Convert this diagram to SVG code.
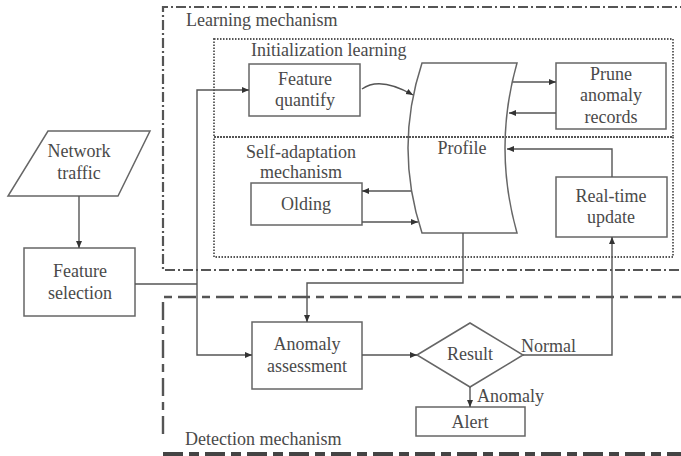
<svg xmlns="http://www.w3.org/2000/svg" width="681" height="456" viewBox="0 0 681 456">
<style>
text{font-family:"Liberation Serif","Times New Roman",serif;font-size:18px;fill:#4a4a4a;}
.m{text-anchor:middle;}
.box{fill:none;stroke:#666;stroke-width:1.5;}
.ln{fill:none;stroke:#555;stroke-width:1.4;}
.arr{marker-end:url(#ah);}
.dot{fill:none;stroke:#555;stroke-width:1.8;stroke-dasharray:1.5 1.5;}
.dd{fill:none;stroke:#555;stroke-width:2.2;stroke-dasharray:10 3 2 3;}
.dsh{fill:none;stroke:#555;stroke-width:2.4;stroke-dasharray:18 6 8 6;}
.thick{fill:none;stroke:#444;stroke-width:4;stroke-dasharray:20 6 10 6;}
</style>
<defs>
<marker id="ah" markerWidth="8" markerHeight="8" refX="7" refY="4" orient="auto" markerUnits="userSpaceOnUse">
<path d="M0,1 L7,4 L0,7 Z" fill="#333"/>
</marker>
</defs>

<g id="learning-mechanism">
<path class="dd" d="M690,7 H163 V270 H690"/>
<text x="186" y="26">Learning mechanism</text>
</g>
<g id="initialization-learning">
<rect class="dot" x="214" y="39" width="459" height="98"/>
<text x="251" y="56">Initialization learning</text>
</g>
<g id="self-adaptation">
<rect class="dot" x="214" y="137" width="459" height="120"/>
<text class="m" x="301" y="158">Self-adaptation</text>
<text class="m" x="301" y="178">mechanism</text>
</g>
<g id="detection-mechanism">
<path class="dsh" d="M690,297 H163 V440"/>
<path class="thick" d="M163,454 H690"/>
<text x="185" y="445">Detection mechanism</text>
</g>

<g id="network-traffic">
<path class="box" d="M48,131 H150 L118,196 H8 Z"/>
<text class="m" x="79" y="157">Network</text>
<text class="m" x="79" y="179">traffic</text>
</g>
<g id="feature-selection">
<rect class="box" x="24" y="248" width="111" height="68"/>
<text class="m" x="80" y="277">Feature</text>
<text class="m" x="80" y="299">selection</text>
</g>
<g id="feature-quantify">
<rect class="box" x="249" y="64" width="111" height="52"/>
<text class="m" x="305" y="85">Feature</text>
<text class="m" x="305" y="106">quantify</text>
</g>
<g id="profile">
<path class="box" d="M422,63 H517 Q493,148 517,233 H422 Q394,148 422,63 Z"/>
<text class="m" x="462" y="154">Profile</text>
</g>
<g id="prune">
<rect class="box" x="556" y="63" width="110" height="66"/>
<text class="m" x="611" y="80">Prune</text>
<text class="m" x="611" y="101">anomaly</text>
<text class="m" x="611" y="123">records</text>
</g>
<g id="olding">
<rect class="box" x="251" y="183" width="111" height="42"/>
<text class="m" x="306" y="210">Olding</text>
</g>
<g id="realtime-update">
<rect class="box" x="556" y="177" width="111" height="60"/>
<text class="m" x="611" y="202">Real-time</text>
<text class="m" x="611" y="223">update</text>
</g>
<g id="anomaly-assessment">
<rect class="box" x="252" y="322" width="110" height="67"/>
<text class="m" x="307" y="350">Anomaly</text>
<text class="m" x="307" y="372">assessment</text>
</g>
<g id="result">
<path class="box" d="M417,355 L470,323 L523,355 L470,387 Z"/>
<text class="m" x="470" y="360">Result</text>
</g>
<g id="alert">
<rect class="box" x="416" y="407" width="109" height="29"/>
<text class="m" x="470" y="428">Alert</text>
</g>

<g id="connectors">
<path class="ln arr" d="M79,196 V248"/>
<path class="ln" d="M135,284 H197"/>
<path class="ln arr" d="M197,284 V90 H249"/>
<path class="ln arr" d="M197,284 V355 H252"/>
<path class="ln arr" d="M362,89 Q380,76 413,95"/>
<path class="ln arr" d="M513,82 H556"/>
<path class="ln arr" d="M556,113 H509"/>
<path class="ln arr" d="M411,191 H362"/>
<path class="ln arr" d="M362,222 H418"/>
<path class="ln arr" d="M612,177 V149 H507"/>
<path class="ln arr" d="M463,233 V283 H307 V322"/>
<path class="ln arr" d="M362,355 H417"/>
<path class="ln arr" d="M523,355 H612 V237"/>
<path class="ln arr" d="M470,387 V407"/>
<text x="521" y="352">Normal</text>
<text x="477" y="402">Anomaly</text>
</g>
</svg>
